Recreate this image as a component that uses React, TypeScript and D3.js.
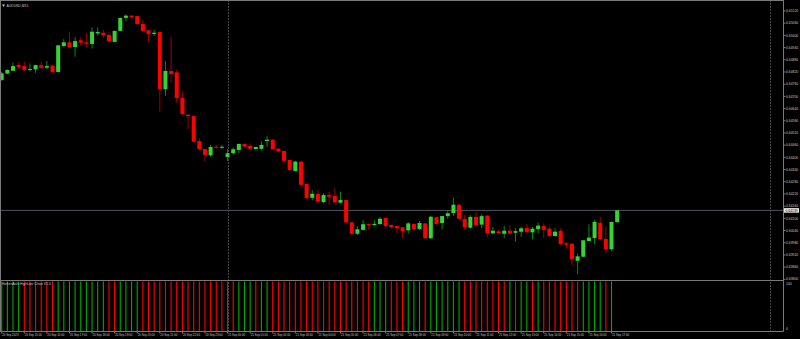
import React from "react";
import * as d3 from "d3";

// ---- data (AUDUSD M15, 20 Sep 14:00 .. 21 Sep 17:15) ----
const opens = [0.64781,0.64812,0.64826,0.64854,0.64849,0.6483,0.64833,0.64853,0.64841,0.64851,0.6482,0.64948,0.64966,0.64943,0.64976,0.64966,0.64958,0.6501,0.65013,0.65002,0.64968,0.65022,0.65086,0.65097,0.65095,0.65056,0.65025,0.65007,0.65017,0.64735,0.64825,0.64818,0.64692,0.6461,0.64603,0.6448,0.64441,0.6441,0.64452,0.64449,0.64402,0.6442,0.64436,0.64466,0.64456,0.64441,0.64442,0.6448,0.64487,0.64442,0.64431,0.64387,0.64333,0.64379,0.64269,0.64201,0.6422,0.6418,0.64215,0.6421,0.64177,0.6419,0.6408,0.64024,0.64043,0.64072,0.64067,0.64072,0.64102,0.64067,0.64062,0.64056,0.64041,0.64072,0.64047,0.64075,0.64002,0.64105,0.64077,0.64111,0.64126,0.64167,0.64097,0.64054,0.64107,0.64069,0.64113,0.64026,0.64036,0.64024,0.64039,0.64029,0.64034,0.64052,0.64031,0.64047,0.64062,0.64049,0.64013,0.64038,0.63977,0.63975,0.63891,0.63911,0.63988,0.64003,0.64078,0.63998,0.63948,0.64081];
const highs = [0.64821,0.64833,0.64866,0.64866,0.64871,0.64863,0.64856,0.64871,0.64874,0.64854,0.64954,0.64982,0.65018,0.64991,0.64991,0.6501,0.6504,0.6504,0.65027,0.65015,0.65023,0.65087,0.65104,0.651,0.65097,0.65079,0.65027,0.65027,0.65018,0.64874,0.64994,0.64833,0.64721,0.64613,0.64604,0.64494,0.64442,0.64461,0.64461,0.64462,0.6444,0.64449,0.64467,0.64469,0.64469,0.64452,0.64479,0.64506,0.64488,0.64449,0.64433,0.64388,0.64383,0.64383,0.6427,0.64239,0.64239,0.64223,0.64231,0.64248,0.64231,0.64191,0.64081,0.64062,0.64092,0.64075,0.64092,0.64105,0.64105,0.6407,0.64063,0.64057,0.64082,0.64075,0.64087,0.64076,0.64111,0.64108,0.64112,0.64141,0.64203,0.64168,0.64116,0.64116,0.6413,0.6412,0.64116,0.64059,0.64043,0.64062,0.64067,0.64051,0.64059,0.64072,0.64059,0.64078,0.64075,0.64059,0.64051,0.64051,0.63985,0.63976,0.63928,0.63993,0.64071,0.64092,0.64108,0.64059,0.64085,0.64141];
const lows = [0.64776,0.6481,0.64825,0.64836,0.64823,0.64821,0.64816,0.64833,0.64833,0.64813,0.64818,0.64941,0.6494,0.64895,0.64948,0.64941,0.64935,0.64999,0.64986,0.64966,0.64966,0.65021,0.65069,0.65085,0.65055,0.65015,0.64969,0.64997,0.64625,0.64702,0.64767,0.64669,0.64607,0.64539,0.64476,0.64436,0.64379,0.64403,0.64444,0.6444,0.64382,0.64412,0.6442,0.64446,0.6444,0.64436,0.64433,0.64452,0.6444,0.64425,0.64382,0.64333,0.64328,0.64262,0.64194,0.6419,0.64174,0.64174,0.64166,0.64174,0.64174,0.64079,0.64018,0.64018,0.6404,0.64046,0.64059,0.64068,0.64051,0.64049,0.64029,0.64002,0.64026,0.64045,0.64043,0.63997,0.63998,0.64068,0.64045,0.64098,0.64111,0.64095,0.64043,0.64049,0.64062,0.64051,0.64007,0.64021,0.64023,0.64002,0.64021,0.63985,0.6401,0.64026,0.63997,0.64026,0.64002,0.64007,0.6401,0.63969,0.63952,0.6387,0.63826,0.63908,0.63987,0.63972,0.63993,0.63928,0.63939,0.6408];
const closes = [0.64813,0.6483,0.64849,0.64844,0.6483,0.64835,0.64854,0.64841,0.64849,0.6482,0.64951,0.64966,0.64941,0.64972,0.64964,0.64959,0.65018,0.65017,0.65,0.64971,0.65022,0.65086,0.65097,0.6509,0.65056,0.65022,0.65007,0.65013,0.64736,0.64825,0.6481,0.64692,0.64613,0.64603,0.64477,0.64441,0.64412,0.64451,0.64449,0.64452,0.6442,0.6444,0.64466,0.64454,0.64442,0.64451,0.64461,0.64487,0.64441,0.6443,0.64383,0.64338,0.64379,0.64265,0.642,0.64221,0.64182,0.64215,0.64206,0.64179,0.6419,0.6408,0.64024,0.64046,0.64071,0.64066,0.64073,0.64098,0.64062,0.64057,0.64051,0.64036,0.64075,0.64046,0.64077,0.64002,0.64108,0.64072,0.64111,0.64125,0.64167,0.64098,0.64056,0.64107,0.64067,0.64111,0.64026,0.64039,0.64026,0.64039,0.64026,0.64037,0.64051,0.64033,0.64049,0.64064,0.64043,0.64013,0.64034,0.63974,0.6397,0.639,0.63913,0.63992,0.64005,0.64082,0.63998,0.63949,0.64082,0.64139];

// Heiken Ashi High/Low Close sub-window (closed bars only): 1 = bullish (green), 0 = bearish (red)
const haUp = [1,1,1,1,0,0,0,0,0,0,1,1,1,1,1,1,1,1,1,0,0,1,1,1,1,0,0,0,0,0,0,0,0,0,0,0,0,0,0,0,0,0,1,1,1,0,1,1,0,0,0,0,0,0,0,0,0,0,0,0,0,0,0,0,0,0,1,1,1,0,0,0,1,1,1,0,1,1,1,1,1,1,0,0,0,0,0,0,0,0,1,0,1,1,0,1,0,0,0,0,0,0,0,1,1,1,1,0,1];

const priceTicks = ["0.65120","0.65060","0.65000","0.64940","0.64880","0.64820","0.64760","0.64700","0.64640","0.64580","0.64520","0.64460","0.64400","0.64340","0.64280","0.64220","0.64160","0.64100","0.64040","0.63980","0.63920","0.63860","0.63800"];

const timeTickIdx = [0,4,8,12,16,20,24,28,32,36,40,44,48,52,56,60,64,68,72,76,80,84,88,92,96,100,104,108];
const timeTickLabels = ["20 Sep 2023","20 Sep 15:00","20 Sep 16:00","20 Sep 17:00","20 Sep 18:00","20 Sep 19:00","20 Sep 20:00","20 Sep 21:00","20 Sep 22:00","20 Sep 23:00","21 Sep 00:00","21 Sep 01:00","21 Sep 02:00","21 Sep 03:00","21 Sep 04:00","21 Sep 05:00","21 Sep 06:00","21 Sep 07:00","21 Sep 08:00","21 Sep 09:00","21 Sep 10:00","21 Sep 11:00","21 Sep 12:00","21 Sep 13:00","21 Sep 14:00","21 Sep 15:00","21 Sep 16:00","21 Sep 17:00"];

const daySeparatorIdx = [40, 136];
const symbolTitle = "AUDUSD,M15";
const subTitle = "HeikenAshi HighLow Close V1.0";
const subTicks = ["100", "0"];

export default function App() {
  const W = 800, H = 339;
  const axisX = 783.5;
  const mainTop = 0.5, sepY = 280.5, bottom = 331.5;
  const x = d3.scaleLinear().domain([0, 136]).range([1.7, 769.6]);
  const y = d3.scaleLinear().domain([0.638, 0.6512]).range([279.3, 11]);
  const ySub = d3.scaleLinear().domain([0, 100]).range([bottom, sepY + 1]);
  const font = "'Liberation Sans', Arial, sans-serif";
  const fs = 3.4;
  const labelColor = "#c4c4c4";
  const last = closes[closes.length - 1];
  const bidY = y(last);

  return (
    <svg width={W} height={H} style={{ position: "fixed", left: 0, top: 0, background: "#000", display: "block" }}>
      <rect x={0} y={0} width={W} height={H} fill="#000" />
      {/* day separators */}
      {daySeparatorIdx.map((d) => (
        <line key={d} x1={Math.round(x(d)) + 0.5} x2={Math.round(x(d)) + 0.5} y1={mainTop} y2={bottom} stroke="#8a8a8a" strokeWidth={1} strokeDasharray="1 2" />
      ))}
      {/* bid line */}
      <line x1={0} x2={axisX} y1={bidY} y2={bidY} stroke="#50565c" strokeWidth={1} />
      {/* candles */}
      {opens.map((o, i) => {
        const c = closes[i];
        const up = c >= o;
        const cx = x(i);
        const top = y(Math.max(o, c));
        const h = Math.max(1, y(Math.min(o, c)) - top);
        return (
          <g key={i}>
            <line x1={cx} x2={cx} y1={y(highs[i])} y2={y(lows[i])} stroke={up ? "#0a8a0a" : "#a00000"} strokeWidth={1} />
            <rect x={cx - 2} y={top} width={4} height={h} fill={up ? "#33d433" : "#ff0000"} />
          </g>
        );
      })}
      {/* sub-window bars */}
      {haUp.map((u, i) => (
        <line key={"h" + i} x1={x(i)} x2={x(i)} y1={ySub(100)} y2={ySub(0)} stroke={u ? "#00a800" : "#ff0000"} strokeWidth={1.1} />
      ))}
      {/* frame */}
      <line x1={0.5} x2={0.5} y1={0} y2={bottom} stroke="#7a7a7a" />
      <line x1={0} x2={axisX} y1={mainTop} y2={mainTop} stroke="#7a7a7a" />
      <line x1={axisX} x2={axisX} y1={0} y2={bottom} stroke="#7a7a7a" />
      <line x1={0} x2={axisX} y1={sepY} y2={sepY} stroke="#7a7a7a" />
      <line x1={0} x2={axisX} y1={bottom} y2={bottom} stroke="#7a7a7a" />
      {/* price axis */}
      {priceTicks.map((t) => (
        <g key={t}>
          <line x1={axisX} x2={axisX + 2} y1={y(+t)} y2={y(+t)} stroke="#7a7a7a" />
          <text x={786} y={y(+t)} dy="0.35em" fontSize={fs} fontFamily={font} fill={labelColor}>{t}</text>
        </g>
      ))}
      <rect x={784} y={bidY - 2.3} width={15} height={4.6} fill="#e6e6e6" />
      <text x={785.5} y={bidY} dy="0.35em" fontSize={fs} fontFamily={font} fill="#000">{last.toFixed(5)}</text>
      {/* sub-window axis */}
      <text x={786} y={ySub(100) + 2} dy="0.35em" fontSize={fs} fontFamily={font} fill={labelColor}>{subTicks[0]}</text>
      <text x={786} y={ySub(0) - 2.5} dy="0.35em" fontSize={fs} fontFamily={font} fill={labelColor}>{subTicks[1]}</text>
      {/* time axis */}
      {timeTickIdx.map((d, k) => (
        <g key={"t" + d}>
          <line x1={x(d)} x2={x(d)} y1={bottom} y2={bottom + 2} stroke="#7a7a7a" />
          <text x={x(d) + 0.5} y={334.7} dy="0.35em" fontSize={fs * 0.85} fontFamily={font} fill={labelColor}>{timeTickLabels[k]}</text>
        </g>
      ))}
      {/* titles */}
      <path d="M2,4.5 L5,4.5 L3.5,7 Z" fill="#c4c4c4" />
      <text x={6.5} y={5.8} dy="0.35em" fontSize={fs} fontFamily={font} fill={labelColor}>{symbolTitle}</text>
      <text x={2} y={284.3} dy="0.35em" fontSize={fs} fontFamily={font} fill={labelColor}>{subTitle}</text>
    </svg>
  );
}
